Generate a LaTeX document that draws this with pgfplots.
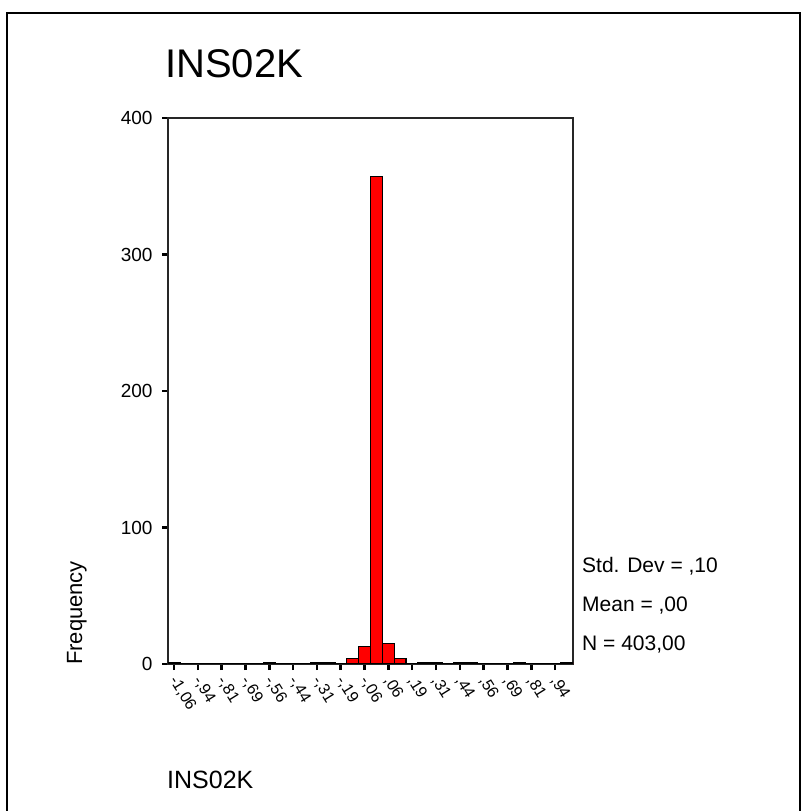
\documentclass[border=0pt]{standalone}
\usepackage{pgfplots}
\pgfplotsset{compat=1.18}
\usepackage{fontspec}
\setmainfont{Liberation Sans}
\begin{document}
\begin{tikzpicture}
\path[use as bounding box] (0pt,0pt) rectangle (806pt,811pt);
\draw[line width=2.5pt] (7pt,-2pt) -- (7pt,798pt) -- (800pt,798pt) -- (800pt,-2pt);
\node[anchor=base west, inner sep=0, font=\fontsize{40}{42}\selectfont] at (165pt,733pt) {INS02K};
\begin{axis}[
  at={(168pt,147pt)}, anchor=south west,
  width=405pt, height=546pt, scale only axis,
  xmin=-0.5, xmax=33.5, ymin=0, ymax=400,
  axis line style={line width=1.8pt, black!85},
  ytick={0,100,200,300,400},
  ytick pos=left, xtick pos=bottom,
  tick align=outside, major tick length=6pt,
  tick style={line width=2.5pt, black},
  xtick={0,2,...,32},
  xticklabels={{-1,06},{-,94},{-,81},{-,69},{-,56},{-,44},{-,31},{-,19},{-,06},{,06},{,19},{,31},{,44},{,56},{,69},{,81},{,94}},
  /pgf/number format/assume math mode=true,
  yticklabel style={font=\fontsize{19}{20}\selectfont, xshift=-6pt},
  xticklabel style={font=\fontsize{16}{17}\selectfont, rotate=-58, anchor=west, inner sep=1pt, xshift=5pt, yshift=-5pt},
  ybar, bar width=1,
]
\addplot[fill=red, draw=black, line width=1.5pt] coordinates {
(0,1) (1,0) (2,0) (3,0) (4,0) (5,0) (6,0) (7,0) (8,1) (9,0) (10,0) (11,0)
(12,1) (13,1) (14,0) (15,4) (16,13) (17,357) (18,15) (19,4) (20,0) (21,1)
(22,1) (23,0) (24,1) (25,1) (26,0) (27,0) (28,0) (29,1) (30,0) (31,0) (32,0) (33,1)
};
\end{axis}
\node[rotate=90, anchor=base, inner sep=0, font=\fontsize{22}{24}\selectfont] at (82pt,198pt) {Frequency};
\node[anchor=base west, inner sep=0, font=\fontsize{21}{22}\selectfont] at (582pt,238pt) {Std. Dev = ,10};
\node[anchor=base west, inner sep=0, font=\fontsize{21}{22}\selectfont] at (582pt,199pt) {Mean = ,00};
\node[anchor=base west, inner sep=0, font=\fontsize{21}{22}\selectfont] at (582pt,160pt) {N = 403,00};
\node[anchor=base west, inner sep=0, font=\fontsize{25}{26}\selectfont] at (167pt,22pt) {INS02K};
\end{tikzpicture}
\end{document}
